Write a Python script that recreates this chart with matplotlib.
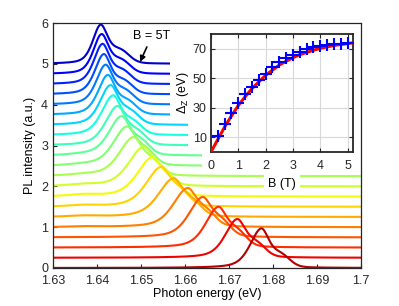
import numpy as np
import matplotlib.pyplot as plt
from matplotlib.patches import Rectangle

plt.rcParams['font.family'] = ['Liberation Sans', 'DejaVu Sans']
plt.rcParams['font.size'] = 9
plt.rcParams['mathtext.fontset'] = 'custom'
plt.rcParams['mathtext.rm'] = 'Liberation Sans'

# field of each spectrum (T); spectra are shifted up by the same number
fields = [0.0, 0.25, 0.5, 0.75, 1.0, 1.25, 1.5, 1.75, 2.0, 2.25, 2.5,
          2.75, 3.0, 3.25, 3.5, 3.75, 4.0, 4.25, 4.5, 4.75, 5.0]
# peak energy (eV), peak height, half widths, shoulder, low-energy bump
peak_E = [1.6773, 1.6718, 1.6675, 1.6639, 1.6605, 1.6573, 1.6545, 1.6525, 1.6505, 1.6482, 1.6467,
          1.6455, 1.6446, 1.6436, 1.6430, 1.6424, 1.6419, 1.6415, 1.6412, 1.6410, 1.6408]
peak_h = [0.97, 0.95, 1.0, 0.99, 0.96, 0.95, 0.98, 0.97, 0.97, 0.96, 0.97,
          0.97, 0.97, 0.98, 0.98, 0.98, 0.98, 0.99, 0.99, 0.98, 0.96]
width_lo = [0.0030, 0.0032, 0.0034, 0.0036, 0.0038, 0.0040, 0.0040, 0.0040, 0.0040, 0.0038, 0.0036,
            0.0034, 0.0032, 0.0030, 0.0028, 0.0026, 0.0025, 0.0024, 0.0023, 0.0022, 0.0021]
width_hi = [0.0022, 0.0024, 0.0025, 0.0026, 0.0026, 0.0026, 0.0026, 0.0026, 0.0026, 0.0025, 0.0025,
            0.0024, 0.0023, 0.0022, 0.0022, 0.0021, 0.0021, 0.0020, 0.0020, 0.0020, 0.0020]
shoulder = [0.28, 0.30, 0.32, 0.32, 0.32, 0.32, 0.32, 0.32, 0.32, 0.32, 0.32,
            0.31, 0.30, 0.30, 0.30, 0.30, 0.30, 0.30, 0.30, 0.30, 0.30]
bump = [0.0, 0.0, 0.0, 0.0, 0.015, 0.025, 0.03, 0.04, 0.035, 0.03, 0.025,
        0.02, 0.0, 0.0, 0.0, 0.0, 0.0, 0.0, 0.0, 0.0, 0.0]

# inset: Zeeman splitting vs field
inset_B = [0.25, 0.5, 0.75, 1.0, 1.25, 1.5, 1.75, 2.0, 2.25, 2.5,
           2.75, 3.0, 3.25, 3.5, 3.75, 4.0, 4.25, 4.5, 4.75, 5.0]
inset_dz = [11, 19, 26.5, 33, 39, 44, 49, 53, 57.5, 61,
            63.5, 66, 68, 69.5, 71, 72, 72.5, 73, 73.5, 74]
fit_B = [0.0, 0.25, 0.5, 0.75, 1.0, 1.25, 1.5, 1.75, 2.0, 2.25, 2.5,
         2.75, 3.0, 3.25, 3.5, 3.75, 4.0, 4.25, 4.5, 4.75, 5.0, 5.2]
fit_dz = [0, 8.5, 17, 24.5, 31.5, 37.5, 43, 47.5, 52, 55.5, 59,
          61.5, 64, 66, 67.5, 69, 70.3, 71.3, 72.2, 72.9, 73.5, 74]

energy = np.linspace(1.63, 1.70, 701)
colors = plt.cm.jet(np.linspace(0.95, 0.07, len(fields)))

fig = plt.figure(figsize=(3.99, 3.06), dpi=100)
ax = fig.add_axes([53 / 399, 38 / 306, 308 / 399, 245 / 306])

for i in reversed(range(len(fields))):
    d = energy - peak_E[i]
    w = np.where(d < 0, width_lo[i], width_hi[i])
    main = 0.5 / (1 + (d / w) ** 2) + 0.5 * np.exp(-np.log(2) * (d / w) ** 2)
    sh = shoulder[i] * np.exp(-(d - 0.0045) ** 2 / (2 * 0.002 ** 2))
    bp = bump[i] * np.exp(-(energy - 1.637) ** 2 / (2 * 0.003 ** 2))
    spec = main + sh + bp
    spec = spec / spec.max() * peak_h[i]
    ax.plot(energy, fields[i] + spec, color=colors[i], lw=1.5)

ax.set_xlim(1.63, 1.70)
ax.set_ylim(0, 6)
ax.set_xticks([1.63, 1.64, 1.65, 1.66, 1.67, 1.68, 1.69, 1.70])
ax.set_xticklabels(['1.63', '1.64', '1.65', '1.66', '1.67', '1.68', '1.69', '1.7'])
ax.set_yticks([0, 1, 2, 3, 4, 5, 6])
ax.tick_params(direction='in', length=3, colors='#262626', labelsize=9)
ax.tick_params(axis='x', pad=5)
for s in ax.spines.values():
    s.set_color('#262626')
    s.set_linewidth(0.9)
    s.set_zorder(6)
ax.set_xlabel('Photon energy (eV)', labelpad=1)
ax.set_ylabel('PL intensity (a.u.)', labelpad=4)

ax.annotate('B = 5T', xy=(1.6498, 5.05), xytext=(1.6525, 5.69),
            ha='center', va='center', fontsize=9,
            arrowprops=dict(arrowstyle='-|>', color='k', lw=1.2, mutation_scale=8,
                            shrinkA=2, shrinkB=0))

# white area behind the inset and its labels
for x0, y0, x1, y1 in [(170, 24, 361, 121), (188, 121, 361, 152), (202, 152, 361, 170)]:
    ax.add_patch(Rectangle((x0 / 399, 1 - y1 / 306), (x1 - x0) / 399, (y1 - y0) / 306,
                           transform=fig.transFigure, facecolor='white', edgecolor='none',
                           zorder=5, clip_on=False))

ax2 = fig.add_axes([211 / 399, 154 / 306, 142 / 399, 118 / 306])
ax2.plot(fit_B, fit_dz, color='red', lw=2.2, zorder=3)
ax2.plot(inset_B, inset_dz, '+', color='blue', ms=8.5, mew=1.5, zorder=4)
ax2.set_xlim(0, 5.2)
ax2.set_ylim(0, 80)
ax2.set_xticks([0, 1, 2, 3, 4, 5])
ax2.set_yticks([10, 30, 50, 70])
ax2.grid(True, color='#d9d9d9', lw=0.8)
ax2.tick_params(direction='in', length=3, top=True, right=True, colors='#262626', labelsize=9,
                pad=3)
ax2.tick_params(axis='x', pad=6)
for s in ax2.spines.values():
    s.set_color('#262626')
    s.set_linewidth(1.3)
ax2.set_xlabel('B (T)', labelpad=4,
               bbox=dict(facecolor='white', edgecolor='none', pad=3))
ax2.set_ylabel(r'$\Delta_\mathrm{Z}$ (eV)', labelpad=1)

fig.savefig('out.png', dpi=100)
